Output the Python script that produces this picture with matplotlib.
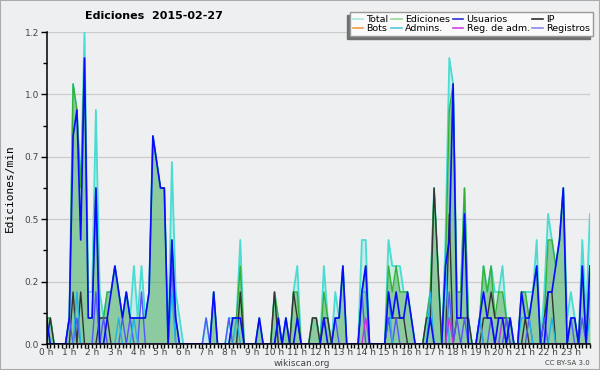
import matplotlib
matplotlib.use('Agg')

import matplotlib.pyplot as plt
import numpy as np
from matplotlib.lines import Line2D
from matplotlib.patches import Rectangle
from matplotlib.transforms import IdentityTransform

# edits per minute, one value per 10-minute slot (00:00 ... 23:50), 12 slots per row
total = [
    .1, .1, 0, 0, 0, 0, .1, 1.0, .9, .6, 1.2, .2,
    .2, .9, .2, .1, .2, .2, .3, .2, .1, .2, .1, .3,
    .1, .3, .1, .2, .8, .7, .6, .6, 0, .7, .2, .1,
    0, 0, 0, 0, 0, 0, .1, 0, .2, 0, 0, 0,
    .1, .1, .1, .4, 0, 0, 0, 0, .1, 0, 0, 0,
    .2, .1, 0, .1, 0, .2, .3, 0, 0, 0, .1, .1,
    0, .3, .1, 0, .2, .1, .3, 0, 0, 0, 0, .4,
    .4, 0, 0, 0, 0, 0, .4, .3, .3, .3, .2, .2,
    .1, 0, 0, 0, .1, .2, .6, .3, 0, .4, 1.1, 1.0,
    .2, .2, .6, .1, 0, 0, .1, .3, .2, .3, .2, .2,
    .3, .1, .1, 0, 0, .2, .2, .2, .2, .4, 0, .2,
    .5, .4, .3, .4, .6, .1, .2, .1, 0, .4, .1, .5,
]
ediciones = [
    .1, .1, 0, 0, 0, 0, .1, 1.0, .9, .6, 1.1, .1,
    .1, .6, .1, .1, .2, .2, .3, .2, .1, .2, .1, .1,
    .1, .1, .1, .2, .8, .7, .6, .6, 0, .4, .1, 0,
    0, 0, 0, 0, 0, 0, 0, 0, .2, 0, 0, 0,
    0, .1, .1, .3, 0, 0, 0, 0, .1, 0, 0, 0,
    .2, .1, 0, .1, 0, .2, .2, 0, 0, 0, .1, .1,
    0, .2, .1, 0, .1, .1, .3, 0, 0, 0, 0, .2,
    .3, 0, 0, 0, 0, 0, .3, .2, .3, .2, .2, .2,
    .1, 0, 0, 0, .1, .2, .6, .3, 0, .3, .9, 1.0,
    .2, .2, .6, .1, 0, 0, .1, .3, .2, .3, .1, .2,
    .2, .1, .1, 0, 0, .2, .2, .1, .2, .3, 0, .1,
    .4, .4, .3, .4, .6, 0, .1, .1, 0, .3, 0, .3,
]
usuarios = [
    .1, 0, 0, 0, 0, 0, .1, .8, .9, .4, 1.1, .1,
    .1, .6, 0, 0, .1, .2, .3, .2, .1, .2, .1, .1,
    .1, .1, .1, .2, .8, .7, .6, .6, 0, .4, .1, 0,
    0, 0, 0, 0, 0, 0, 0, 0, .2, 0, 0, 0,
    0, .1, .1, .1, 0, 0, 0, 0, .1, 0, 0, 0,
    0, .1, 0, .1, 0, 0, .1, 0, 0, 0, 0, 0,
    0, .1, 0, 0, .1, .1, .3, 0, 0, 0, 0, .2,
    .3, 0, 0, 0, 0, 0, .2, .1, .2, .1, .1, .2,
    .1, 0, 0, 0, 0, .1, 0, 0, 0, .3, .4, 1.0,
    .1, .1, .5, 0, 0, 0, .1, .2, .1, .1, 0, .1,
    .1, 0, .1, 0, 0, .2, .1, .1, .2, .3, 0, 0,
    .2, .2, .3, .4, .6, 0, .1, .1, 0, .3, 0, .3,
]
ip = [
    0, .1, 0, 0, 0, 0, 0, .2, 0, .2, 0, 0,
    0, 0, .1, .1, .1, 0, 0, 0, 0, 0, 0, 0,
    0, 0, 0, 0, 0, 0, 0, 0, 0, 0, 0, 0,
    0, 0, 0, 0, 0, 0, 0, 0, 0, 0, 0, 0,
    0, 0, 0, .2, 0, 0, 0, 0, 0, 0, 0, 0,
    .2, 0, 0, 0, 0, .2, .1, 0, 0, 0, .1, .1,
    0, .1, .1, 0, 0, 0, 0, 0, 0, 0, 0, 0,
    0, 0, 0, 0, 0, 0, .1, .1, .1, .1, .1, 0,
    0, 0, 0, 0, .1, .1, .6, .3, 0, 0, .5, 0,
    .1, .1, .1, .1, 0, 0, 0, .1, .1, .2, .1, .1,
    .1, .1, 0, 0, 0, 0, .1, 0, 0, 0, 0, .1,
    .2, .2, 0, 0, 0, 0, 0, 0, 0, 0, 0, 0,
]
bots = [0] * 144
admins = [
    0, 0, 0, 0, 0, 0, 0, 0, .2, 0, 0, 0,
    0, 0, 0, 0, 0, 0, 0, .1, 0, 0, 0, .1,
    0, 0, 0, 0, 0, 0, 0, 0, 0, .2, 0, 0,
    0, 0, 0, 0, 0, 0, 0, 0, 0, 0, 0, 0,
    0, 0, .1, 0, 0, 0, 0, 0, 0, 0, 0, 0,
    0, 0, 0, 0, 0, 0, 0, 0, 0, 0, 0, 0,
    0, 0, 0, 0, 0, 0, 0, 0, 0, 0, 0, .2,
    .2, 0, 0, 0, 0, 0, .2, 0, 0, 0, 0, 0,
    0, 0, 0, 0, 0, .2, 0, 0, 0, .3, 0, 0,
    0, 0, 0, 0, 0, 0, .1, 0, 0, 0, 0, 0,
    .1, 0, 0, 0, 0, .1, .1, .1, 0, 0, 0, 0,
    0, .1, 0, 0, 0, 0, 0, 0, 0, 0, 0, .1,
]
reg_adm = [
    0, 0, 0, 0, 0, 0, 0, 0, 0, 0, 0, 0,
    0, 0, 0, 0, 0, 0, 0, 0, 0, 0, 0, 0,
    0, 0, 0, 0, 0, 0, 0, 0, 0, 0, 0, 0,
    0, 0, 0, 0, 0, 0, 0, 0, 0, 0, 0, 0,
    0, 0, 0, 0, 0, 0, 0, 0, 0, 0, 0, 0,
    0, 0, 0, 0, 0, 0, 0, 0, 0, 0, 0, 0,
    0, 0, 0, 0, 0, 0, 0, 0, 0, 0, 0, 0,
    .1, 0, 0, 0, 0, 0, 0, 0, 0, 0, 0, 0,
    0, 0, 0, 0, 0, 0, 0, 0, 0, 0, .1, 0,
    0, 0, 0, 0, 0, 0, 0, 0, 0, 0, 0, 0,
    .1, 0, 0, 0, 0, 0, 0, 0, 0, 0, 0, 0,
    0, 0, 0, 0, 0, 0, 0, 0, 0, 0, 0, 0,
]
registros = [
    0, 0, 0, 0, 0, 0, .1, 0, .1, 0, 0, 0,
    0, .2, 0, .1, 0, 0, 0, 0, .1, 0, .1, 0,
    0, .2, 0, 0, 0, 0, 0, 0, 0, .3, 0, 0,
    0, 0, 0, 0, 0, 0, .1, 0, 0, 0, 0, 0,
    .1, 0, 0, 0, 0, 0, 0, 0, 0, 0, 0, 0,
    0, .1, 0, 0, 0, 0, 0, 0, 0, 0, 0, 0,
    0, 0, 0, 0, .1, 0, 0, 0, 0, 0, 0, .2,
    0, 0, 0, 0, 0, 0, .1, 0, .1, 0, 0, 0,
    0, 0, 0, 0, 0, 0, 0, 0, 0, 0, .2, 0,
    .1, 0, .1, 0, 0, 0, .1, 0, 0, .1, 0, 0,
    0, .1, 0, 0, 0, 0, 0, .1, 0, 0, 0, .1,
    0, 0, 0, 0, 0, 0, .1, 0, 0, .1, 0, .2,
]
hour_labels = [f'{h} h' for h in range(24)]
y_ticks = [0, 0.24, 0.48, 0.72, 0.96, 1.2]

x = np.arange(len(total))
bg = '#eeeff0'

fig = plt.figure(figsize=(6, 3.7), dpi=100, facecolor=bg)
ax = fig.add_axes([46.5 / 600, 26 / 370, 543.4 / 600, 312 / 370])
ax.set_facecolor(bg)

# filled series
ax.fill_between(x, total, color='#40e0d0', alpha=0.22, lw=0)
ax.plot(x, total, color='#48dcd2', lw=1.3)
ax.fill_between(x, ediciones, color='#3aa03a', alpha=0.42, lw=0)
ax.plot(x, ediciones, color='#34b034', lw=1.0)

# line series
ax.plot(x, bots, color='#ff9933', lw=1.0)
ax.plot(x, ip, color='#333333', lw=1.0)
ax.plot(x, registros, color='#5555ff', lw=1.0)
ax.plot(x, admins, color='#1eb4e6', lw=1.0)
ax.plot(x, reg_adm, color='#cc33dd', lw=1.0)
ax.plot(x, usuarios, color='#0a0aff', lw=1.2)

ax.set_xlim(0, len(total) - 1)
ax.set_ylim(0, 1.2)
ax.set_xticks(np.arange(0, 144, 6))
ax.set_xticklabels(hour_labels)
ax.set_xticks(np.arange(0, 144), minor=True)
ax.set_yticks(y_ticks)
ax.set_yticklabels([f'{v:.1f}' for v in y_ticks])
ax.set_yticks(np.arange(0, 1.21, 0.12), minor=True)
ax.tick_params(axis='both', which='major', labelsize=6.5, labelcolor='#444444',
               length=4, width=1)
ax.tick_params(axis='x', which='major', length=3, pad=0)
ax.tick_params(axis='y', which='major', pad=1.5)
ax.tick_params(axis='both', which='minor', length=3, width=1)
ax.grid(axis='y', color='#cccccc', lw=0.9)
ax.set_axisbelow(True)
for s in ['top', 'right']:
    ax.spines[s].set_visible(False)
for s in ['left', 'bottom']:
    ax.spines[s].set_linewidth(1.1)

fig.text(85 / 600, 1 - 16 / 370, 'Ediciones  2015-02-27', fontsize=8,
         fontweight='bold', ha='left', va='center')
fig.text(10 / 600, 1 - 188 / 370, 'Ediciones/min', rotation=90, fontsize=8,
         family='DejaVu Sans Mono', ha='center', va='center')
fig.text(302 / 600, 1 - 363 / 370, 'wikiscan.org', fontsize=6.5,
         color='#444444', ha='center', va='center')
fig.text(590 / 600, 1 - 363 / 370, 'CC BY-SA 3.0', fontsize=5,
         color='#444444', ha='right', va='center')

labels = ['Total', 'Bots', 'Ediciones', 'Admins.', 'Usuarios', 'Reg. de adm.', 'IP', 'Registros']
colors = ['#a8e8e0', '#f0a040', '#98d898', '#50c8e0', '#3030d0', '#d040e0', '#303030', '#8888f0']
handles = [Line2D([], [], color=c, lw=1.2) for c in colors]
leg = fig.legend(handles, labels, ncol=4, loc='upper right',
                 bbox_to_anchor=(593 / 600, 1 - 12 / 370), fontsize=6.8,
                 fancybox=False, edgecolor='#999999', facecolor='#fafafa',
                 framealpha=1, handlelength=1.1, handletextpad=0.35,
                 columnspacing=0.3, labelspacing=0.05, borderpad=0.3,
                 borderaxespad=0)
leg.set_zorder(6)

# shadow offset to the lower left, like the original
fig.canvas.draw()
bb = leg.get_window_extent()
fig.patches.append(Rectangle((bb.x0 - 3, bb.y0 - 3), bb.width, bb.height,
                             transform=IdentityTransform(), color='#707070',
                             zorder=5))
# thin frame round the image
fig.patches.append(Rectangle((0, 0), 1, 1, transform=fig.transFigure,
                             fill=False, edgecolor='#aaaaaa', lw=1.5, zorder=10))

fig.savefig('out.png', dpi=100, facecolor=bg)
